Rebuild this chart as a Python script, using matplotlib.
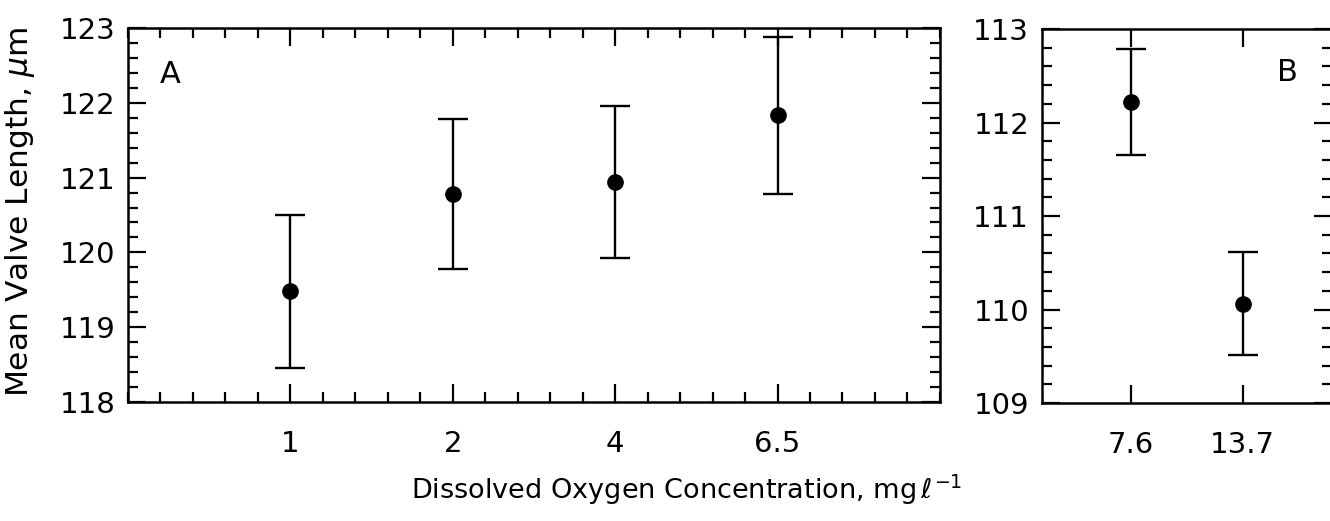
import matplotlib
matplotlib.use('Agg')
import matplotlib.pyplot as plt
import numpy as np

# panel A: low-oxygen treatments
conc_a = ['1', '2', '4', '6.5']
mean_a = [119.48, 120.78, 120.94, 121.83]
err_a = [1.02, 1.00, 1.02, 1.05]

# panel B: higher-oxygen treatments
conc_b = ['7.6', '13.7']
mean_b = [112.22, 110.06]
err_b = [0.57, 0.55]

plt.rcParams['font.family'] = ['DejaVu Sans']
plt.rcParams['mathtext.fontset'] = 'dejavusans'

fig = plt.figure(figsize=(13.3, 5.21), dpi=100)
ax1 = fig.add_axes([0.0962, 0.2284, 0.6105, 0.7179])
ax2 = fig.add_axes([0.7832, 0.2265, 0.2183, 0.7178])


def style(ax):
    for s in ax.spines.values():
        s.set_linewidth(1.8)
    ax.tick_params(which='both', direction='in', top=True, right=True,
                   width=1.6, labelsize=21, pad=9)
    ax.tick_params(which='major', length=13)
    ax.tick_params(which='minor', length=7)
    ax.tick_params(axis='x', which='both', pad=20)


xa = np.arange(len(conc_a))
ax1.errorbar(xa, mean_a, yerr=err_a, fmt='o', color='black', ms=11,
             capsize=10.5, capthick=1.7, elinewidth=1.7)
ax1.set_xlim(-1, 4)
ax1.set_ylim(118, 123)
ax1.set_xticks(xa)
ax1.set_xticklabels(conc_a)
ax1.set_xticks(np.arange(-1, 4.01, 0.2), minor=True)
ax1.set_yticks(np.arange(118, 123.1, 1))
ax1.set_yticks(np.arange(118, 123.01, 0.2), minor=True)
style(ax1)
ax1.text(0.052, 0.875, 'A', transform=ax1.transAxes, fontsize=22,
         ha='center', va='center')

xb = np.arange(len(conc_b))
ax2.errorbar(xb, mean_b, yerr=err_b, fmt='o', color='black', ms=11,
             capsize=10.5, capthick=1.7, elinewidth=1.7)
ax2.set_xlim(-0.8, 1.8)
ax2.set_ylim(109, 113)
ax2.set_xticks(xb)
ax2.set_xticklabels(conc_b)
ax2.set_yticks(np.arange(109, 113.1, 1))
ax2.set_yticks(np.arange(109, 113.01, 0.2), minor=True)
style(ax2)
ax2.text(0.845, 0.885, 'B', transform=ax2.transAxes, fontsize=22,
         ha='center', va='center')

fig.text(0.516, 0.06, r'Dissolved Oxygen Concentration, mg$\,\ell^{-1}$',
         fontsize=19.5, ha='center', va='center')
fig.text(0.015, 0.593, r'Mean Valve Length, $\mu$m', fontsize=22.5,
         rotation=90, ha='center', va='center')

fig.savefig('out.png', dpi=100)
